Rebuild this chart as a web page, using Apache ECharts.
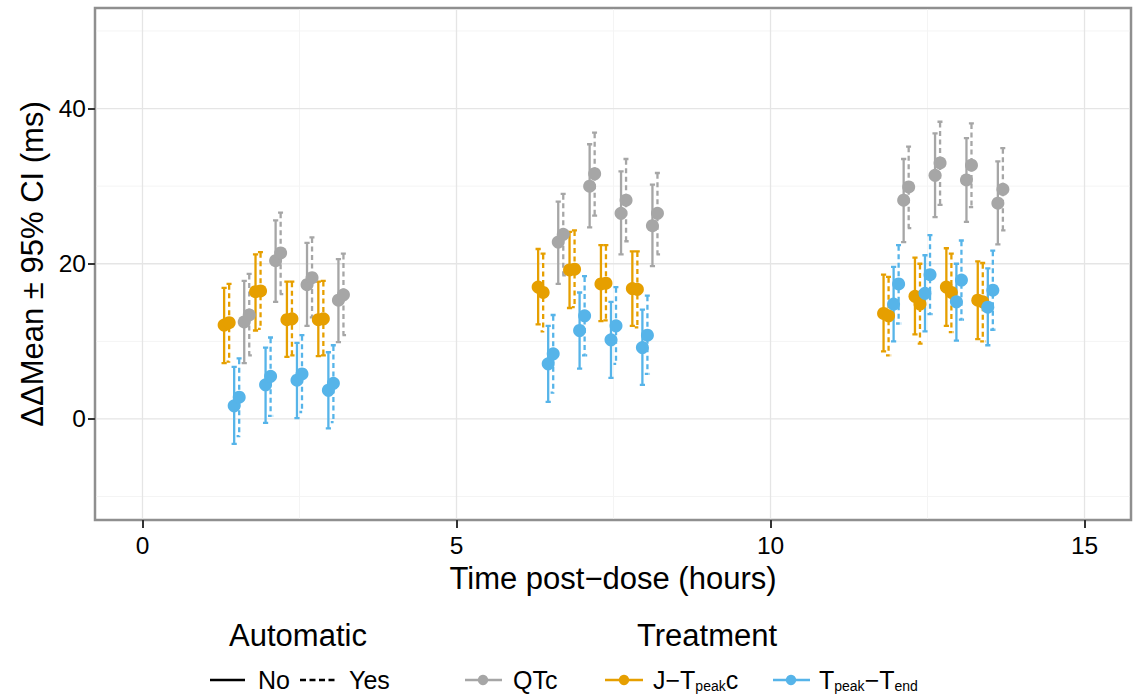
<!DOCTYPE html>
<html lang="en">
<head>
<meta charset="UTF-8">
<title>ΔΔMean ± 95% CI by time post-dose</title>
<script src="https://cdn.jsdelivr.net/npm/echarts@6/dist/echarts.min.js"></script>
<style>
  html, body { margin: 0; padding: 0; background: #fff; }
  #chart { width: 1137px; height: 694px; }
</style>
</head>
<body>
<div id="chart"></div>
<script>
// time points (hours post-dose)
var times = [1.5, 2, 2.5, 3, 6.5, 7, 7.5, 8, 12, 12.5, 13, 13.5];

// QTc
var qtcNoMean  = [12.5, 20.4, 17.3, 15.3, 22.8, 30.0, 26.5, 24.9, 28.2, 31.4, 30.8, 27.8];
var qtcNoLow   = [7.2, 15.1, 12.0, 9.9, 17.4, 24.7, 21.2, 19.7, 22.8, 26.0, 25.4, 22.5];
var qtcNoHigh  = [17.8, 25.6, 22.7, 20.6, 28.0, 35.4, 31.9, 30.2, 33.5, 36.8, 36.2, 33.2];
var qtcYesMean = [13.4, 21.4, 18.2, 16.0, 23.8, 31.6, 28.2, 26.5, 29.9, 33.0, 32.7, 29.6];
var qtcYesLow  = [8.2, 16.1, 13.1, 10.8, 18.5, 26.2, 22.9, 21.2, 24.6, 27.6, 27.3, 24.3];
var qtcYesHigh = [18.7, 26.6, 23.4, 21.3, 29.0, 36.9, 33.5, 31.7, 35.1, 38.3, 38.1, 34.9];

// J-Tpeak c
var jtNoMean  = [12.1, 16.4, 12.8, 12.8, 17.0, 19.2, 17.4, 16.8, 13.6, 15.8, 17.0, 15.3];
var jtNoLow   = [7.2, 11.4, 8.0, 8.1, 12.2, 14.3, 12.6, 12.0, 8.7, 10.9, 12.0, 10.3];
var jtNoHigh  = [16.9, 21.2, 17.7, 17.7, 21.9, 24.1, 22.4, 21.6, 18.6, 20.8, 22.0, 20.3];
var jtYesMean = [12.4, 16.5, 12.9, 12.9, 16.3, 19.3, 17.5, 16.7, 13.3, 14.8, 16.3, 15.1];
var jtYesLow  = [7.4, 11.6, 8.2, 8.2, 11.3, 14.4, 12.7, 11.8, 8.2, 9.7, 11.2, 10.0];
var jtYesHigh = [17.4, 21.5, 17.7, 17.8, 21.3, 24.3, 22.4, 21.6, 18.3, 20.0, 21.3, 20.1];

// Tpeak-Tend
var tpNoMean  = [1.7, 4.4, 5.0, 3.7, 7.1, 11.4, 10.2, 9.2, 14.8, 16.2, 15.1, 14.4];
var tpNoLow   = [-3.2, -0.5, 0.1, -1.2, 2.2, 6.5, 5.3, 4.4, 10.0, 11.3, 10.1, 9.5];
var tpNoHigh  = [6.7, 9.2, 9.8, 8.6, 12.0, 16.3, 15.1, 14.1, 19.6, 21.1, 20.0, 19.4];
var tpYesMean = [2.8, 5.5, 5.8, 4.6, 8.4, 13.3, 12.0, 10.8, 17.4, 18.6, 17.9, 16.6];
var tpYesLow  = [-2.2, 0.4, 0.9, -0.4, 3.4, 8.2, 7.1, 5.8, 12.3, 13.5, 12.8, 11.5];
var tpYesHigh = [7.8, 10.5, 10.8, 9.5, 13.4, 18.4, 17.0, 15.9, 22.4, 23.7, 23.0, 21.7];

// axis ticks
var xTicks = [0, 5, 10, 15];
var xMinor = [2.5, 7.5, 12.5];
var yTicks = [0, 20, 40];
var yMinor = [-10, 10, 30, 50];

var FONT = '"Liberation Sans", Arial, Helvetica, sans-serif';
var GRAY = '#a6a6a6', ORANGE = '#e69f00', BLUE = '#56b4e9';

// dodge order as in the figure: J-Tpeakc, Tpeak-Tend, QTc (No then Yes)
var dodge = [-0.2, -0.12, -0.04, 0.04, 0.12, 0.2];
var groups = [
  { color: ORANGE, dashed: false, mean: jtNoMean,  low: jtNoLow,  high: jtNoHigh },
  { color: ORANGE, dashed: true,  mean: jtYesMean, low: jtYesLow, high: jtYesHigh },
  { color: BLUE,   dashed: false, mean: tpNoMean,  low: tpNoLow,  high: tpNoHigh },
  { color: BLUE,   dashed: true,  mean: tpYesMean, low: tpYesLow, high: tpYesHigh },
  { color: GRAY,   dashed: false, mean: qtcNoMean,  low: qtcNoLow,  high: qtcNoHigh },
  { color: GRAY,   dashed: true,  mean: qtcYesMean, low: qtcYesLow, high: qtcYesHigh }
];

function gridSeries(values, vertical, color, width) {
  return {
    type: 'custom', silent: true, z: 1,
    data: values.map(function (v) { return vertical ? [v, 0] : [0, v]; }),
    encode: { x: 0, y: 1 },
    renderItem: function (params, api) {
      var cs = params.coordSys;
      var p = api.coord([api.value(0), api.value(1)]);
      var shape = vertical
        ? { x1: p[0], y1: cs.y + 1.5, x2: p[0], y2: cs.y + cs.height - 1.5 }
        : { x1: cs.x + 1.5, y1: p[1], x2: cs.x + cs.width - 1.5, y2: p[1] };
      return { type: 'line', shape: shape, style: { stroke: color, lineWidth: width } };
    }
  };
}

var series = [
  gridSeries(xMinor, true, '#f4f4f4', 1),
  gridSeries(yMinor, false, '#f4f4f4', 1),
  gridSeries(xTicks, true, '#e5e5e5', 1.3),
  gridSeries(yTicks, false, '#e5e5e5', 1.3)
];

// error bars
groups.forEach(function (g, k) {
  series.push({
    type: 'custom', silent: true, z: 2,
    itemStyle: { color: g.color },
    data: times.map(function (t, i) { return [t + dodge[k], g.low[i], g.high[i]]; }),
    encode: { x: 0, y: [1, 2] },
    renderItem: function (params, api) {
      var x = api.value(0);
      var lo = api.coord([x, api.value(1)]);
      var hi = api.coord([x, api.value(2)]);
      var w = 2.6;
      return {
        type: 'polyline',
        shape: { points: [[hi[0] - w, hi[1]], [hi[0] + w, hi[1]], [hi[0], hi[1]],
                          [lo[0], lo[1]], [lo[0] - w, lo[1]], [lo[0] + w, lo[1]]] },
        style: { stroke: g.color, fill: null, lineWidth: 2.3,
                 lineDash: g.dashed ? [5, 3.5] : null }
      };
    }
  });
});

// means
groups.forEach(function (g, k) {
  series.push({
    type: 'scatter', silent: true, z: 3,
    symbol: 'circle', symbolSize: 13,
    itemStyle: { color: g.color, opacity: 1 },
    data: times.map(function (t, i) { return [t + dodge[k], g.mean[i]]; })
  });
});

// legend drawn with graphic elements
function legLine(x1, x2, y, color, dashed) {
  return { type: 'line', shape: { x1: x1, y1: y, x2: x2, y2: y },
           style: { stroke: color, lineWidth: 2.5, lineDash: dashed ? [6, 3.5] : null } };
}
function legDot(cx, cy, color) {
  return { type: 'circle', shape: { cx: cx, cy: cy, r: 5.2 }, style: { fill: color } };
}
function legText(x, y, text, size, align) {
  return { type: 'text', x: x, y: y,
           style: { text: text, fill: '#000', font: size + 'px ' + FONT,
                    align: align || 'left', verticalAlign: 'middle',
                    rich: { a: { fontSize: 25, fontFamily: FONT, fill: '#000' },
                            s: { fontSize: 14, fontFamily: FONT, fill: '#000', lineHeight: 6, verticalAlign: 'bottom' } } } };
}

var graphics = [
  legText(298, 635, 'Automatic', 31, 'center'),
  legText(707, 635, 'Treatment', 31, 'center'),
  legLine(210, 245, 680, '#000', false),
  legText(258, 680, 'No', 25),
  legLine(300, 338, 680, '#000', true),
  legText(349, 680, 'Yes', 25),
  legLine(465, 502, 680, GRAY, false), legDot(483, 680, GRAY),
  legText(513, 680, 'QTc', 25),
  legLine(605, 643, 680, ORANGE, false), legDot(624, 680, ORANGE),
  legText(653, 680, '{a|J−T}{s|peak}{a|c}', 25),
  legLine(773, 810, 680, BLUE, false), legDot(791, 680, BLUE),
  legText(819, 680, '{a|T}{s|peak}{a|−T}{s|end}', 25)
];

var chart = echarts.init(document.getElementById('chart'), null, { renderer: 'svg' });
chart.setOption({
  animation: false,
  backgroundColor: '#fff',
  textStyle: { fontFamily: FONT },
  grid: { left: 95, right: 6, top: 8, bottom: 174, show: true,
          borderColor: '#8f8f8f', borderWidth: 2.5, backgroundColor: '#fff' },
  xAxis: {
    type: 'value', min: -0.756, max: 15.74,
    name: 'Time post−dose (hours)', nameLocation: 'middle', nameGap: 42,
    nameTextStyle: { fontSize: 31, color: '#000', fontFamily: FONT },
    axisLine: { show: false, onZero: false },
    splitLine: { show: false },
    axisTick: { show: true, customValues: xTicks, length: 8, lineStyle: { color: '#333', width: 2 } },
    axisLabel: { customValues: xTicks, fontSize: 24.5, color: '#000', margin: 13, fontFamily: FONT }
  },
  yAxis: {
    type: 'value', min: -13.02, max: 52.96,
    name: 'ΔΔMean ± 95% CI (ms)', nameLocation: 'middle', nameGap: 40,
    nameTextStyle: { fontSize: 31, color: '#000', fontFamily: FONT },
    axisLine: { show: false, onZero: false },
    splitLine: { show: false },
    axisTick: { show: true, customValues: yTicks, length: 7, lineStyle: { color: '#333', width: 2 } },
    axisLabel: { customValues: yTicks, fontSize: 24.5, color: '#000', margin: 9, fontFamily: FONT }
  },
  graphic: graphics,
  series: series
});
</script>
</body>
</html>
